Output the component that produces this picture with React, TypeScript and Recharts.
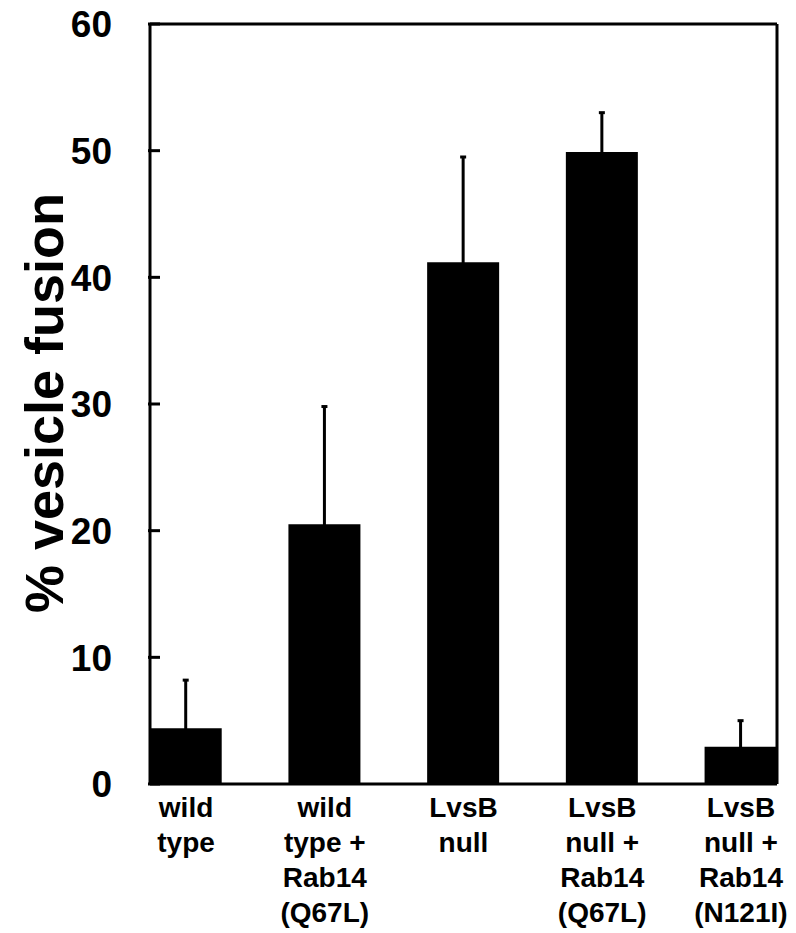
import { BarChart, Bar, XAxis, YAxis, ErrorBar, ReferenceLine } from 'recharts';

const categories = [
  ['wild', 'type'],
  ['wild', 'type +', 'Rab14', '(Q67L)'],
  ['LvsB', 'null'],
  ['LvsB', 'null +', 'Rab14', '(Q67L)'],
  ['LvsB', 'null +', 'Rab14', '(N121I)'],
];
const fusion = [4.4, 20.5, 41.2, 49.9, 2.95];
const errUp = [3.8, 9.3, 8.3, 3.1, 2.05];
const yTicks = [0, 10, 20, 30, 40, 50, 60];
const xDomain = [-0.26, 4.26];

// lower bound kept inside the bar so only the upward whisker shows
const data = fusion.map((v, i) => ({ idx: i, fusion: v, err: [0.6, errUp[i]] }));

const FONT = '"Liberation Sans", Arial, Helvetica, sans-serif';

const YTick = ({ x, y, payload }: any) => (
  <g>
    <line x1={x} x2={x + 12} y1={y} y2={y} stroke="#000" strokeWidth={3} />
    <text x={x - 36} y={y} dy="0.36em" textAnchor="end" fontFamily={FONT} fontWeight="bold" fontSize={37} fill="#000">
      {payload.value}
    </text>
  </g>
);

const XTick = ({ x, y, payload }: any) => {
  const lines = categories[payload.value] || [];
  return (
    <g>
      {lines.map((t, i) => (
        <text key={i} x={x} y={y + 31 + i * 35} textAnchor="middle" fontFamily={FONT} fontWeight="bold" fontSize={28} fill="#000">
          {t}
        </text>
      ))}
    </g>
  );
};

const YLabel = () => (
  <text x={55} y={395} transform="rotate(-90 55 395)" textAnchor="middle" fontFamily={FONT} fontWeight="bold" fontSize={54} fill="#000">
    % vesicle fusion
  </text>
);

export default function App() {
  return (
    <div style={{ width: 780, height: 920 }}>
      <BarChart
        width={780}
        height={920}
        data={data}
        margin={{ top: 16, right: 11, left: 0, bottom: 0 }}
        style={{ overflow: 'visible' }}
      >
        <XAxis
          dataKey="idx"
          type="number"
          domain={xDomain}
          ticks={[0, 1, 2, 3, 4]}
          tick={<XTick />}
          tickLine={false}
          tickSize={0}
          height={144}
          axisLine={{ stroke: '#000', strokeWidth: 3 }}
          interval={0}
        />
        <YAxis
          type="number"
          domain={[0, 60]}
          ticks={yTicks}
          tick={<YTick />}
          tickLine={false}
          tickSize={0}
          width={142}
          axisLine={{ stroke: '#000', strokeWidth: 3 }}
          label={<YLabel />}
        />
        <ReferenceLine y={60} stroke="#000" strokeWidth={3} />
        <ReferenceLine x={xDomain[1]} stroke="#000" strokeWidth={3} />
        <Bar dataKey="fusion" fill="#000" barSize={72} isAnimationActive={false}>
          <ErrorBar dataKey="err" direction="y" width={3} stroke="#000" strokeWidth={3} isAnimationActive={false} />
        </Bar>
      </BarChart>
    </div>
  );
}
